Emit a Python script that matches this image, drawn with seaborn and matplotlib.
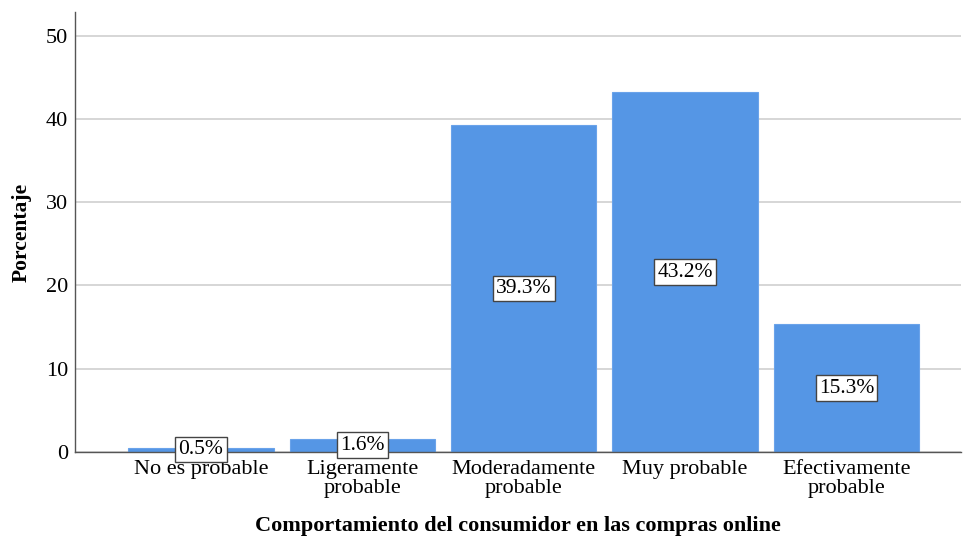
import pandas as pd
import matplotlib
matplotlib.use('Agg')
import matplotlib.pyplot as plt
import seaborn as sns

# Data
categories = ['No es probable', 'Ligeramente\nprobable', 'Moderadamente\nprobable',
              'Muy probable', 'Efectivamente\nprobable']
percentages = [0.5, 1.6, 39.3, 43.2, 15.3]
labels = ['0.5%', '1.6%', '39.3%', '43.2%', '15.3%']

df = pd.DataFrame({'categoria': categories, 'porcentaje': percentages})

sns.set_theme(style='white')
plt.rcParams['font.family'] = ['Liberation Serif', 'DejaVu Serif']
plt.rcParams['text.color'] = 'black'
plt.rcParams['axes.labelcolor'] = 'black'

fig = plt.figure(figsize=(9.63, 5.36), dpi=100)
ax = fig.add_axes([0.078, 0.157, 0.92, 0.82])

sns.barplot(data=df, x='categoria', y='porcentaje', color='#5596e5',
            saturation=1, width=0.9, ax=ax, zorder=2,
            edgecolor='#6aa3ea', linewidth=0.8)

ax.set_ylim(0, 52.8)
ax.set_xlim(-0.78, 4.71)
ax.set_yticks([0, 10, 20, 30, 40, 50])
ax.yaxis.grid(True, color='#d0d0d0', linewidth=1.2, zorder=0)
ax.set_axisbelow(True)

for s in ['top', 'right']:
    ax.spines[s].set_visible(False)
for s in ['left', 'bottom']:
    ax.spines[s].set_color('#555555')
    ax.spines[s].set_linewidth(1.0)

ax.tick_params(axis='both', labelsize=16, colors='black', length=0, pad=5)
ax.tick_params(axis='x', pad=6)
for t in ax.get_xticklabels():
    t.set_linespacing(1.0)

ax.set_ylabel('Porcentaje', fontsize=15.5, fontweight='bold', labelpad=10)
ax.set_xlabel('Comportamiento del consumidor en las compras online', fontsize=16,
              fontweight='bold', labelpad=13)

for i, (v, lab) in enumerate(zip(percentages, labels)):
    ax.text(i, v / 2, lab, ha='center', va='center', fontsize=15.5, zorder=5,
            color='black',
            bbox=dict(boxstyle='square,pad=0.15', facecolor='white',
                      edgecolor='#444444', linewidth=1.0))

fig.savefig('out.png', dpi=100)
